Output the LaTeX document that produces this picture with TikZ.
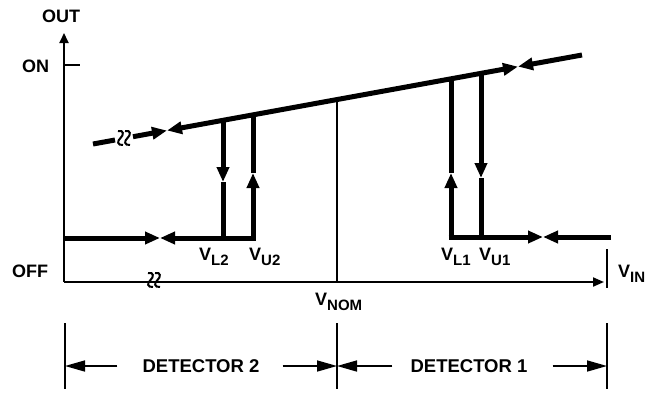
\documentclass[tikz,border=0pt]{standalone}
\usepackage{fontspec}
\setmainfont{Liberation Sans}
\usetikzlibrary{arrows.meta,calc}

\newcommand{\Vsub}[1]{V\raisebox{-5pt}{\fontsize{15pt}{15pt}\selectfont #1}}

\tikzset{
  axisline/.style={line width=2pt},
  curve/.style={line width=5pt},
  breakmark/.style={line width=2pt},
  lbl/.style={inner sep=0pt,font=\fontsize{18pt}{18pt}\selectfont\bfseries},
  dimline/.style={line width=1.6pt},
  dimtip/.style={-{Triangle[length=20pt,width=11pt]}},
  zz/.pic={
    \foreach \dx in {-3.5,3.5}
      \draw[breakmark] (\dx-2.5,-7) .. controls (\dx+3.5,-8.5) and (\dx+3.5,-3) .. (\dx,0)
        .. controls (\dx-3.5,3) and (\dx-3.5,7.5) .. (\dx+2.5,7);
  }
}

\begin{document}
\begin{tikzpicture}[x=1pt,y=-1pt,>={Triangle[length=15pt,width=12pt]}]
\useasboundingbox (0,0) rectangle (656,392);

% axes
\coordinate (O) at (64,282);
\coordinate (Ytop) at (64,33);
\coordinate (Xend) at (604,282);
\draw[axisline,-{Triangle[length=10pt,width=9pt]}] (O) -- (Ytop);
\draw[axisline,-{Triangle[length=11pt,width=9pt]}] (O) -- (Xend);
\draw[axisline] (64,65) coordinate (onL) -- (80,65) coordinate (onR);
\draw[axisline] (607,249) coordinate (vinT) -- (607,288) coordinate (vinB);
\pic at (154,280) {zz};

\node[lbl,anchor=base west] (out) at (42,22) {OUT};
\node[lbl,anchor=base west] (on) at (22,72) {ON};
\node[lbl,anchor=base west] (off) at (12,277) {OFF};
\node[lbl,anchor=base west] (vin) at (618,277) {\Vsub{IN}};

% upper (ON) line
\coordinate (up0) at (93,144);
\coordinate (up1) at (115,140);
\coordinate (up2) at (133,136.7);
\coordinate (up3) at (167,130.5);
\coordinate (up4) at (518,66.6);
\coordinate (up5) at (582,55);
\draw[curve] (up0) -- (up1);
\draw[curve,->] (up2) -- (up3);
\draw[curve,<->] (up3) -- (up4);
\draw[curve,->] (up5) -- (up4);
\pic at (124,138) {zz};

% V_NOM
\coordinate (nomT) at (337,99.6);
\coordinate (nomB) at (337,282);
\draw[axisline] (nomT) -- (nomB);
\node[lbl,anchor=base west] (vnom) at (315,305) {\Vsub{NOM}};

% detector 2
\coordinate (lo2a) at (64,238);
\coordinate (lo2m) at (160,238);
\coordinate (lo2b) at (255.5,238);
\draw[curve,->] (lo2a) -- (lo2m);
\draw[curve,->] (lo2b) -- (lo2m);
\draw[curve,->] (223,120.3) coordinate (l2T) -- (223,182) coordinate (l2M);
\draw[curve] (l2M) -- (223,240.5) coordinate (l2B);
\draw[curve,->] (253,240.5) coordinate (u2B) -- (253,173) coordinate (u2M);
\draw[curve] (u2M) -- (253,114.9) coordinate (u2T);
\node[lbl,anchor=base west] (vl2) at (199,260) {\Vsub{L2}};
\node[lbl,anchor=base west] (vu2) at (249,260) {\Vsub{U2}};

% detector 1
\coordinate (lo1a) at (448.5,237);
\coordinate (lo1m) at (543,237);
\coordinate (lo1b) at (611,237);
\draw[curve,->] (lo1a) -- (lo1m);
\draw[curve,->] (lo1b) -- (lo1m);
\draw[curve,->] (451,239.5) coordinate (l1B) -- (451,173) coordinate (l1M);
\draw[curve] (l1M) -- (451,78.8) coordinate (l1T);
\draw[curve,->] (481,73.4) coordinate (u1T) -- (481,178) coordinate (u1M);
\draw[curve] (u1M) -- (481,239.5) coordinate (u1B);
\node[lbl,anchor=base west] (vl1) at (441,260) {\Vsub{L1}};
\node[lbl,anchor=base west] (vu1) at (479,260) {\Vsub{U1}};

% detector ranges
\draw[dimline] (65,323) coordinate (dLT) -- (65,389) coordinate (dLB);
\draw[dimline] (337,323) coordinate (dMT) -- (337,389) coordinate (dMB);
\draw[dimline] (607,323) coordinate (dRT) -- (607,389) coordinate (dRB);
\coordinate (dL) at (65,366);
\coordinate (dM) at (337,366);
\coordinate (dR) at (607,366);
\node[lbl,font=\fontsize{18.5pt}{18.5pt}\selectfont\bfseries] (det2) at (201,366) {DETECTOR 2};
\node[lbl,font=\fontsize{18.5pt}{18.5pt}\selectfont\bfseries] (det1) at (469,366) {DETECTOR 1};
\draw[dimline,dimtip] ([xshift=-25pt]det2.west) -- (dL);
\draw[dimline,dimtip] ([xshift=23pt]det2.east) -- (dM);
\draw[dimline,dimtip] ([xshift=-18pt]det1.west) -- (dM);
\draw[dimline,dimtip] ([xshift=25pt]det1.east) -- (dR);
\end{tikzpicture}
\end{document}
